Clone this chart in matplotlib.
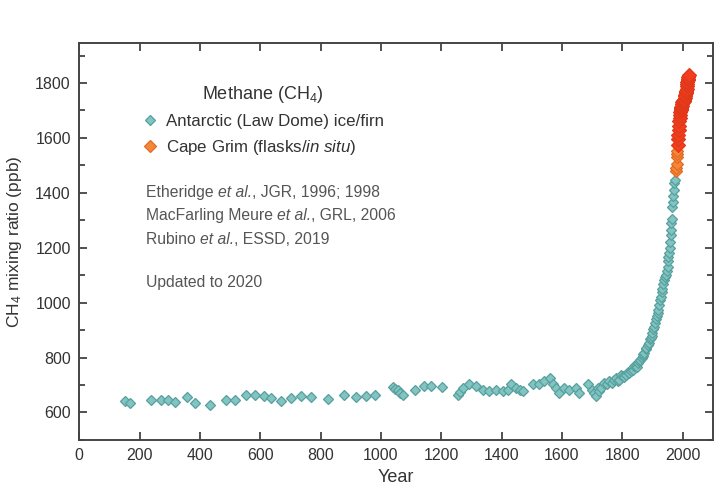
import matplotlib
matplotlib.use("Agg")
import matplotlib.pyplot as plt
from matplotlib.ticker import MultipleLocator
from matplotlib.transforms import offset_copy

# Law Dome ice / firn record (year, CH4 ppb)
ice_years = [151, 170, 239, 270, 294, 316, 358, 385, 434, 487, 518, 553, 584, 614,
             636, 669, 703, 736, 767, 826, 879, 916, 951, 982, 1039, 1046, 1056,
             1064, 1072, 1114, 1144, 1166, 1203, 1254, 1262, 1271, 1293, 1315,
             1337, 1359, 1381, 1403, 1420, 1431, 1448, 1460, 1470, 1503, 1525,
             1541, 1561, 1569, 1580, 1591, 1608, 1624, 1646, 1657, 1685, 1701,
             1707, 1713, 1718, 1723, 1731, 1740, 1748, 1757, 1765, 1772, 1779,
             1785, 1790, 1796, 1801, 1807, 1812, 1818, 1823, 1829, 1834, 1840,
             1845, 1849, 1852, 1856, 1860, 1864, 1867, 1870, 1873, 1877, 1880,
             1884, 1889, 1892, 1895, 1898, 1900, 1903, 1906, 1909, 1911, 1914,
             1917, 1920, 1922, 1925, 1928, 1931, 1933, 1936, 1939, 1942, 1944,
             1947, 1950, 1952, 1953, 1955, 1957, 1958, 1960, 1961, 1963, 1964,
             1966, 1968, 1969, 1971, 1972, 1974]
ice_ppb = [641, 633, 647, 647, 645, 639, 656, 633, 629, 645, 645, 665, 665, 659,
           653, 641, 651, 659, 656, 649, 665, 656, 659, 663, 692, 686, 683,
           672, 663, 683, 695, 695, 692, 665, 676, 690, 702, 695,
           683, 677, 683, 677, 683, 702, 690, 683, 677, 702, 702,
           714, 726, 702, 690, 671, 690, 683, 690, 671, 702, 683,
           671, 659, 690, 677, 690, 708, 702, 714, 708, 720, 726,
           715, 720, 735, 732, 728, 738, 748, 745, 752, 755, 770,
           769, 765, 780, 788, 790, 800, 804, 812, 818, 830, 835,
           845, 853, 868, 870, 880, 889, 905, 913, 925, 940, 950,
           962, 975, 990, 1010, 1022, 1040, 1050, 1068, 1083, 1095, 1100,
           1115, 1130, 1150, 1165, 1180, 1200, 1220, 1245, 1264, 1290, 1305,
           1349, 1365, 1390, 1410, 1434, 1445]

# Cape Grim air archive / flasks
flask_years = [1978, 1979, 1980, 1981, 1982, 1983]
flask_ppb = [1480, 1492, 1505, 1530, 1540, 1552]

# Cape Grim in situ record
insitu_years = [1984, 1985, 1986, 1987, 1988, 1989, 1990, 1991, 1992, 1993,
                1994, 1995, 1996, 1997, 1998, 1999, 2000, 2001, 2002, 2003,
                2004, 2005, 2006, 2007, 2008, 2009, 2010, 2011, 2012, 2013,
                2014, 2015, 2016, 2017, 2018, 2019, 2020]
insitu_ppb = [1575, 1595, 1612, 1630, 1645, 1660, 1672, 1685, 1695, 1700,
              1705, 1710, 1713, 1717, 1725, 1730, 1732, 1733, 1735, 1736,
              1736, 1737, 1738, 1744, 1752, 1758, 1763, 1767, 1772, 1778,
              1788, 1797, 1803, 1810, 1816, 1822, 1830]

x_ticks = [0, 200, 400, 600, 800, 1000, 1200, 1400, 1600, 1800, 2000]
y_ticks = [600, 800, 1000, 1200, 1400, 1600, 1800]

# Reference lines: (text, italic?) pieces
ref_lines = [
    [("Etheridge ", False), ("et al.", True), (", JGR, 1996; 1998", False)],
    [("MacFarling Meure ", False), ("et al.", True), (", GRL, 2006", False)],
    [("Rubino ", False), ("et al.", True), (", ESSD, 2019", False)],
]

plt.rcParams["font.family"] = ["Liberation Sans", "DejaVu Sans"]
plt.rcParams["mathtext.fontset"] = "custom"
plt.rcParams["mathtext.rm"] = "Liberation Sans"
plt.rcParams["mathtext.it"] = "Liberation Sans:italic"

fig = plt.figure(figsize=(7.2, 4.96), dpi=100)
ax = fig.add_axes([0.110, 0.113, 0.880, 0.800])

teal_face, teal_edge = "#82c4c1", "#56a09e"
orange_face, orange_edge = "#f4883a", "#e46a22"
red_face, red_edge = "#f23e1c", "#e0381a"

ax.plot(ice_years, ice_ppb, linestyle="none", marker="D", markersize=5.6,
        markerfacecolor=teal_face, markeredgecolor=teal_edge, markeredgewidth=0.9,
        label="Antarctic (Law Dome) ice/firn", zorder=3)
ax.plot(flask_years, flask_ppb, linestyle="none", marker="D", markersize=6.2,
        markerfacecolor=orange_face, markeredgecolor=orange_edge, markeredgewidth=0.9,
        label="Cape Grim (flasks/$\\it{in\\ situ}$)", zorder=4)
ax.plot(insitu_years, insitu_ppb, linestyle="none", marker="D", markersize=7.0,
        markerfacecolor=red_face, markeredgecolor=red_edge, markeredgewidth=0.9,
        zorder=4)

ax.set_xlim(0, 2100)
ax.set_ylim(500, 1945)
ax.set_xticks(x_ticks)
ax.set_yticks(y_ticks)
ax.yaxis.set_minor_locator(MultipleLocator(100))
ax.tick_params(axis="both", which="both", direction="in", top=True, right=True,
               labelsize=11.5, colors="#333333", width=1.2)
ax.tick_params(axis="both", which="major", length=6, pad=6)
ax.tick_params(axis="y", which="minor", length=4)
for sp in ax.spines.values():
    sp.set_color("#444444")
    sp.set_linewidth(1.4)

ax.set_xlabel("Year", fontsize=13, color="#333333", labelpad=4)
ax.set_ylabel("CH$_4$ mixing ratio (ppb)", fontsize=12.5, color="#333333", labelpad=8)

leg = ax.legend(loc="upper left", bbox_to_anchor=(0.088, 0.915), frameon=False,
                title="Methane (CH$_4$)", title_fontsize=13,
                prop={"size": 12.2}, handletextpad=0.45,
                borderaxespad=0, labelspacing=0.55, handlelength=1.0)
leg.get_title().set_color("#333333")
for t in leg.get_texts():
    t.set_color("#333333")

renderer = fig.canvas.get_renderer()


def text_width(s, style, size):
    # width including trailing spaces: measure with a sentinel bar
    a = fig.text(0, 0, s + "|", fontsize=size, fontstyle=style)
    b = fig.text(0, 0, "|", fontsize=size, fontstyle=style)
    w = a.get_window_extent(renderer).width - b.get_window_extent(renderer).width
    a.remove()
    b.remove()
    return w


def rich_line(x, y, pieces, size=11.3, color="#555555"):
    dx = 0.0
    for s, italic in pieces:
        style = "italic" if italic else "normal"
        tr = offset_copy(ax.transAxes, fig=fig, x=dx, y=0, units="dots")
        ax.text(x, y, s, transform=tr, fontsize=size, fontstyle=style,
                color=color, va="center", ha="left")
        dx += text_width(s, style, size)


for i, pieces in enumerate(ref_lines):
    rich_line(0.105, 0.623 - i * 0.0585, pieces)
ax.text(0.106, 0.396, "Updated to 2020", transform=ax.transAxes,
        fontsize=11.3, color="#555555", va="center")

fig.savefig("out.png", dpi=100)
